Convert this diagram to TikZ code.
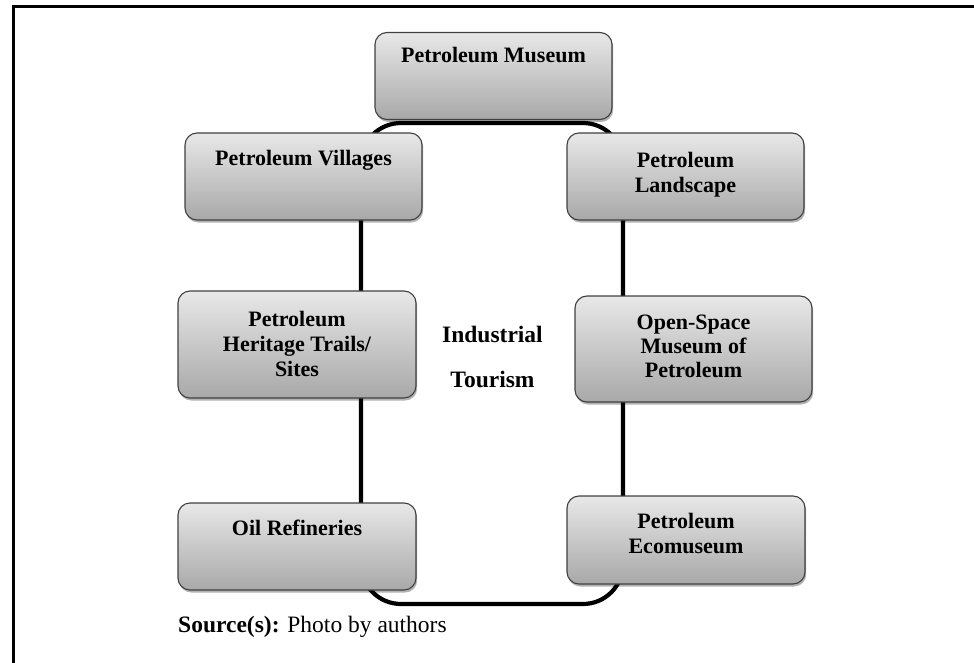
\documentclass[tikz,border=0pt]{standalone}
\usepackage{fontspec}
\setmainfont{Liberation Serif}
\usetikzlibrary{shadows}
\begin{document}
\begin{tikzpicture}[x=1pt,y=-1pt,
  boxnode/.style={draw=black!75, line width=1.1pt, rounded corners=12pt,
    top color=gray!18, bottom color=gray!68, inner sep=0pt,
    minimum width=237pt, minimum height=87pt,
    drop shadow={shadow xshift=1.2pt, shadow yshift=-2.5pt, fill=black, opacity=0.3}},
  boxtext/.style={font=\bfseries\fontsize{22}{25}\selectfont, align=center, inner sep=0pt},
  midtext/.style={font=\bfseries\fontsize{23.5}{26}\selectfont, inner sep=0pt},
  loopline/.style={line width=4.2pt, rounded corners=40pt},
  frameline/.style={line width=3.5pt}
]
\useasboundingbox (0,0) rectangle (974,663);
% frame (left and top rules)
\coordinate (frBL) at (13.3,663);
\coordinate (frTL) at (13.3,6.5);
\coordinate (frTR) at (974,6.5);
\draw[frameline] (frBL) -- (frTL) -- (frTR);
% loop connecting the boxes
\coordinate (loopNW) at (361,123);
\coordinate (loopSE) at (623,604);
\draw[loopline] (loopNW) rectangle (loopSE);
% boxes
\node[boxnode] (mus) at (493.5,76) {};
\node[boxnode] (vil) at (303.5,176.5) {};
\node[boxnode] (lan) at (685.5,176.5) {};
\node[boxnode, minimum width=238pt, minimum height=107pt] (her) at (297,344.5) {};
\node[boxnode, minimum height=106pt] (ope) at (693.5,349) {};
\node[boxnode, minimum width=238pt, minimum height=88pt] (eco) at (686,540) {};
\node[boxnode, minimum width=238pt] (oil) at (297,546.5) {};
% texts
\node[boxtext, anchor=base] (tmus) at (493.5,63) {Petroleum Museum};
\node[boxtext, anchor=base] (tvil) at (303.5,166) {Petroleum Villages};
\node[boxtext] (tlan) at (685.5,174.3) {Petroleum\\Landscape};
\node[boxtext] (ther) at (297,343.5) {Petroleum\\Heritage Trails/\\Sites};
\node[boxtext, font=\bfseries\fontsize{22}{24}\selectfont] (tope) at (693.5,346.5) {Open-Space\\Museum of\\Petroleum};
\node[boxtext] (teco) at (686,533) {Petroleum\\Ecomuseum};
\node[boxtext, anchor=base] (toil) at (297,535) {Oil Refineries};
\node[midtext, anchor=base] (tind) at (492.5,342) {Industrial};
\node[midtext, anchor=base] (ttou) at (492.5,387) {Tourism};
\node[anchor=base west, inner sep=0pt, font=\fontsize{23.5}{26}\selectfont] (src) at (178,632) {\textbf{Source(s):} Photo by authors};
\end{tikzpicture}
\end{document}
